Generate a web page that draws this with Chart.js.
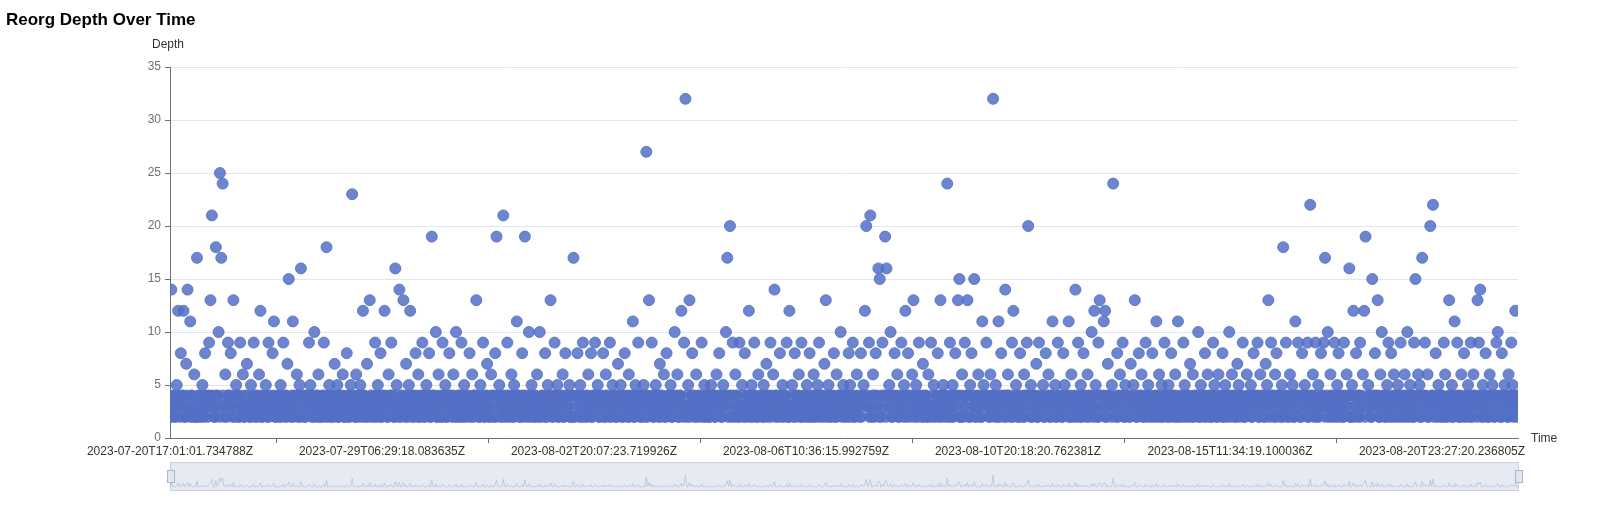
<!DOCTYPE html>
<html>
<head>
<meta charset="utf-8">
<script src="https://cdn.jsdelivr.net/npm/chart.js@4"></script>
<style>
  body { margin: 0; background: #fff; }
</style>
</head>
<body>
<canvas id="c" width="1600" height="527"></canvas>
<script>
// depth of each reorg, in time order
var depths = [
  2,14,3,4,2,5,12,3,8,4, 12,2,7,14,3,11,4,2,6,3, 17,2,4,3,5,2,8,3,4,9, 13,21,3,2,18,4,10,25,17,24,
  3,6,2,9,4,8,3,13,2,5, 4,2,9,3,6,2,4,7,3,2, 5,3,9,2,4,3,6,12,2,4, 3,5,2,9,4,3,8,11,2,3,
  4,2,5,3,9,2,4,7,15,3, 2,11,4,3,6,2,5,16,3,4,
  2,4,3,9,5,2,3,10,4,2, 6,3,2,4,9,3,18,2,5,3, 4,2,7,3,5,2,4,3,6,2, 3,8,2,4,5,23,3,2,6,4,
  2,5,3,12,4,2,7,3,13,2, 4,3,9,2,5,3,8,2,4,12, 3,2,6,4,9,3,2,16,5,3, 14,2,4,13,3,7,2,5,12,3,
  4,2,8,3,6,2,4,9,3,2, 5,3,8,2,19,4,3,10,2,6,
  3,2,9,4,5,2,3,8,4,2, 6,3,10,2,4,3,9,2,5,3, 4,2,8,3,6,2,4,13,3,2, 5,3,9,2,4,7,3,2,6,4,
  2,8,19,3,5,2,4,21,3,2, 9,4,3,6,2,5,3,11,4,2, 3,8,2,19,4,3,10,2,5,3, 4,2,6,3,10,2,4,3,8,2,
  5,3,13,4,2,9,3,5,2,4, 3,6,2,8,4,3,5,2,4,17,
  2,4,8,3,5,2,9,3,4,2, 6,3,8,2,4,9,3,5,2,4, 3,8,2,6,4,3,9,2,5,3, 4,2,7,3,5,2,4,8,3,2,
  6,4,3,11,2,5,3,9,4,2, 3,5,2,27,4,13,3,9,2,4, 5,3,2,7,4,3,6,2,8,4, 3,5,2,4,10,3,6,2,4,12,
  3,9,32,2,5,13,3,8,4,2, 6,3,4,2,9,3,5,2,4,3,
  2,5,3,4,2,6,3,8,4,2, 5,3,10,17,4,20,2,9,3,6, 4,2,9,3,5,2,8,3,4,12, 2,5,3,9,4,2,6,3,4,2,
  5,3,7,2,4,9,3,6,14,2, 4,3,8,2,5,3,4,9,2,12, 3,5,2,8,4,3,6,2,9,3, 4,2,5,3,8,2,4,6,3,2,
  5,9,3,4,2,7,13,3,5,2, 4,3,8,2,6,3,4,10,2,5,
  3,4,2,8,5,3,9,2,4,6, 3,2,8,4,5,12,20,3,9,21, 2,6,4,8,3,16,15,2,9,4, 19,16,3,5,10,2,4,8,3,6,
  2,4,9,3,5,12,2,8,4,3, 6,13,2,5,3,9,4,2,7,3, 4,2,6,3,9,2,5,3,4,8, 2,13,3,5,4,2,24,3,9,2,
  5,3,8,4,13,15,2,6,3,9, 4,13,2,5,8,3,15,4,2,6,
  3,2,11,5,4,9,3,2,6,4, 32,3,5,2,11,4,8,3,2,14, 4,6,3,2,9,12,3,5,2,4, 8,3,2,6,4,9,20,3,5,2,
  4,3,7,2,9,4,3,5,2,8, 3,6,2,4,11,3,5,2,9,4, 3,2,8,5,4,3,11,2,6,3, 4,14,2,9,3,5,2,8,4,3,
  6,2,4,10,3,12,5,2,9,13, 4,3,11,12,2,7,4,3,5,24,
  3,2,8,4,6,3,9,2,5,4, 3,2,7,4,5,13,3,2,8,4, 6,3,2,9,4,5,3,2,8,3, 4,11,2,6,3,5,2,9,4,3,
  5,2,8,3,4,6,2,11,3,4, 2,9,5,3,4,2,7,3,6,2, 4,3,10,2,5,4,3,8,2,6, 3,4,2,9,5,3,2,6,4,3,
  8,2,5,4,3,10,2,6,3,4, 2,7,5,3,4,9,2,3,6,4,
  3,5,2,8,4,3,9,2,6,4, 3,2,7,5,13,3,9,4,2,6, 8,3,4,2,5,18,3,9,2,4, 6,3,5,2,11,4,9,3,2,8,
  4,5,3,9,2,22,4,6,3,9, 2,5,3,8,4,9,17,3,10,2, 6,4,3,9,2,5,8,3,4,2, 9,3,6,4,16,2,5,12,3,8,
  2,4,9,3,6,12,19,3,5,4, 2,15,3,8,4,13,2,6,10,3,
  4,2,5,9,3,8,2,6,4,3, 5,2,9,4,3,6,2,10,3,5, 4,2,9,15,3,6,5,2,17,4, 9,3,6,2,20,4,22,3,8,2,
  5,3,4,2,9,6,3,2,13,4, 5,2,11,3,9,4,2,6,3,8, 4,2,5,3,9,2,6,4,3,13, 9,14,2,5,3,8,4,2,6,3,
  5,2,4,9,10,3,2,8,4,5, 3,2,6,4,9,5,3,12,2,4
];
// the many shallow reorgs that make up the dense band (depth digits, in time order)
var shallowDepths = (
  '3423342342432432243234324342432342344324342432343234423423342334234243423342344243' +
  '2434423442342434243424342342343243424323432443243423442432343244324342342434243423' +
  '4243244342342432343244342342432434244324342342434244324342432343243424342342434242' +
  '3442432343244342342432434244324342342434243423342344243234324342432343244324342342' +
  '4342434234423442432343243424323432443243423442432343244324342342434243423424324434' +
  '2342432343244342342432434244324342342434244324342432343243424342342434242344243234' +
  '3244342342432434244324342342434243423342344243234324342432343244324342342434243423' +
  '3423442432343243424323432443243423442432343244324342342434243423424324434234243234' +
  '3244342342432434244324342342434244324342432343243424342342434242344243234324434234' +
  '2432434244324342342434243423342344243234324342432343244324342342434243424342342434'
).split('').map(Number);
var timeLabels = [
  '2023-07-20T17:01:01.734788Z',
  '2023-07-29T06:29:18.083635Z',
  '2023-08-02T20:07:23.719926Z',
  '2023-08-06T10:36:15.992759Z',
  '2023-08-10T20:18:20.762381Z',
  '2023-08-15T11:34:19.100036Z',
  '2023-08-20T23:27:20.236805Z'
];
var yTicks = [0, 5, 10, 15, 20, 25, 30, 35];

var lastIdx = depths.length - 1;
var labelStep = lastIdx * 212 / 1348;
var points = depths.map(function (d, i) { return { x: i, y: d }; });
var shallowPoints = shallowDepths.map(function (d, i) {
  return { x: i * lastIdx / (shallowDepths.length - 1), y: d };
});

var extras = {
  id: 'extras',
  afterDraw: function (chart) {
    var ctx = chart.ctx, a = chart.chartArea, xs = chart.scales.x;
    ctx.save();
    ctx.fillStyle = '#000';
    ctx.font = 'bold 17px "Liberation Sans", Arial, sans-serif';
    ctx.textBaseline = 'middle';
    ctx.fillText('Reorg Depth Over Time', 6, 20);
    ctx.fillStyle = '#333';
    ctx.font = '12px "Liberation Sans", Arial, sans-serif';
    ctx.textAlign = 'center';
    ctx.fillText('Depth', a.left - 2, 45);
    ctx.textAlign = 'left';
    ctx.fillText('Time', a.right + 13, a.bottom + 1);
    // tick marks between labels
    ctx.strokeStyle = '#6e7079';
    ctx.lineWidth = 1;
    for (var k = 0; k < 7; k++) {
      var px = Math.round(xs.getPixelForValue(k * labelStep + labelStep / 2)) + 0.5;
      if (px > a.right) break;
      ctx.beginPath(); ctx.moveTo(px, a.bottom); ctx.lineTo(px, a.bottom + 5); ctx.stroke();
    }
    // slider
    var top = 462, h = 28;
    ctx.fillStyle = 'rgba(200,210,228,0.45)';
    ctx.fillRect(a.left, top, a.width, h);
    ctx.strokeStyle = '#c9d2e2';
    ctx.strokeRect(a.left + 0.5, top + 0.5, a.width, h);
    ctx.beginPath();
    var maxD = 32;
    depths.forEach(function (d, i) {
      var px = a.left + a.width * i / lastIdx;
      var py = top + h - 2 - (d / maxD) * (h - 6) * 0.6;
      if (i === 0) ctx.moveTo(px, py); else ctx.lineTo(px, py);
    });
    ctx.strokeStyle = '#a9b6cc';
    ctx.lineWidth = 0.6;
    ctx.stroke();
    ctx.fillStyle = '#dfe6f2';
    ctx.strokeStyle = '#a7b7cc';
    ctx.lineWidth = 1;
    [a.left, a.right].forEach(function (hx) {
      ctx.fillRect(hx - 3, top + 8, 7, 12);
      ctx.strokeRect(hx - 3 + 0.5, top + 8.5, 7, 12);
    });
    ctx.restore();
  }
};

var pointStyle = {
  backgroundColor: 'rgba(84,112,198,0.85)',
  borderColor: 'rgba(84,112,198,0.85)',
  pointRadius: 5.5,
  pointHoverRadius: 6
};

new Chart(document.getElementById('c'), {
  type: 'scatter',
  data: {
    datasets: [
      Object.assign({ label: 'Depth', data: points }, pointStyle),
      Object.assign({ label: 'Depth (shallow)', data: shallowPoints }, pointStyle)
    ]
  },
  options: {
    responsive: false,
    animation: false,
    layout: { padding: { left: 0, right: 82, top: 67, bottom: 0 } },
    plugins: { legend: { display: false }, tooltip: { enabled: false } },
    scales: {
      x: {
        type: 'linear',
        min: 0,
        max: lastIdx,
        afterBuildTicks: function (s) {
          s.ticks = timeLabels.map(function (t, k) { return { value: k * labelStep }; });
        },
        afterFit: function (s) { s.height = 89; },
        grid: { display: false, drawTicks: false },
        border: { color: '#6e7079' },
        ticks: {
          autoSkip: false,
          maxRotation: 0,
          padding: 6,
          color: '#333',
          font: { size: 12, family: '"Liberation Sans", Arial, sans-serif' },
          callback: function (v, i) { return timeLabels[i]; }
        }
      },
      y: {
        min: 0,
        max: 35,
        afterBuildTicks: function (s) {
          s.ticks = yTicks.map(function (v) { return { value: v }; });
        },
        afterFit: function (s) { s.width = 170; },
        grid: { color: '#e0e6f1', drawTicks: true, tickLength: 5, tickColor: '#6e7079' },
        border: { color: '#6e7079' },
        ticks: {
          color: '#6e7079',
          padding: 4,
          font: { size: 12, family: '"Liberation Sans", Arial, sans-serif' }
        }
      }
    }
  },
  plugins: [extras]
});
</script>
</body>
</html>
